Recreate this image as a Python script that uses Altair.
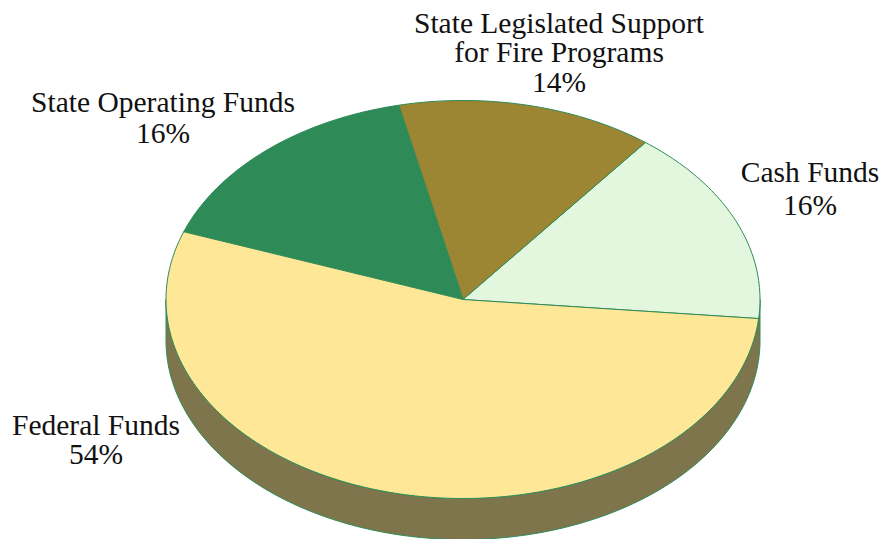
import math
import altair as alt
import pandas as pd

labels = ["Cash Funds", "State Legislated Support for Fire Programs", "State Operating Funds", "Federal Funds"]
shares = [16, 14, 16, 54]
colors = ["#e3f7de", "#9c8533", "#2e8b57", "#fee797"]
side_color = "#7f754c"
edge_color = "#2e8b57"
text_lines = ["State Legislated Support", "for Fire Programs", "14%", "State Operating Funds", "16%",
              "Cash Funds", "16%", "Federal Funds", "54%"]
text_x = [559, 559, 559, 163, 163, 810, 810, 96, 96]
text_y = [24, 53, 83, 103, 134, 173, 206, 426, 455]

CX, CY, RX, RY, DEPTH, START = 463, 299.5, 297, 199, 41, -5.5
W, H = 871, 531
x_scale = alt.Scale(domain=[8, 8 + W], range=[0, W], nice=False, zero=False)
y_scale = alt.Scale(domain=[8, 8 + H], range=[0, H], nice=False, zero=False)

wedges = []
a = START
for lab, s in zip(labels, shares):
    span = s * 3.6
    n = int(span) + 1
    wedges.append({"slice": lab, "o": 0, "x": CX, "y": CY})
    for i in range(n + 1):
        t = math.radians(a + span * i / n)
        wedges.append({"slice": lab, "o": i + 1, "x": CX + RX * math.cos(t), "y": CY - RY * math.sin(t)})
    wedges.append({"slice": lab, "o": n + 2, "x": CX, "y": CY})
    a += span

side = []
for d in range(181):
    t = math.radians(180 + d)
    x = CX + RX * math.cos(t)
    y = CY - RY * math.sin(t)
    side.append({"x": x, "y": y, "y2": y + DEPTH})

base_x = alt.X("x:Q", scale=x_scale, axis=None)
base_y = alt.Y("y:Q", scale=y_scale, axis=None)

side_layer = alt.Chart(pd.DataFrame(side)).mark_area(
    color=side_color, stroke=edge_color, strokeWidth=1, orient="vertical"
).encode(x=base_x, y=base_y, y2="y2:Q")

wedge_layer = alt.Chart(pd.DataFrame(wedges)).mark_line(
    strokeWidth=1, stroke=edge_color, filled=True
).encode(
    x=base_x, y=base_y, order="o:Q",
    detail="slice:N",
    fill=alt.Fill("slice:N", scale=alt.Scale(domain=labels, range=colors), legend=None),
)

text_layer = alt.Chart(pd.DataFrame({"t": text_lines, "x": text_x, "y": text_y})).mark_text(
    font="Liberation Serif", fontSize=29.5, color="#111111", align="center", baseline="middle"
).encode(x=base_x, y=base_y, text="t:N")

chart = alt.layer(side_layer, wedge_layer, text_layer).properties(
    width=W, height=H, padding=0, autosize=alt.AutoSizeParams(type="none")
).configure_view(stroke=None)
chart.save("out.html", embed_options={"renderer": "svg", "actions": False})
